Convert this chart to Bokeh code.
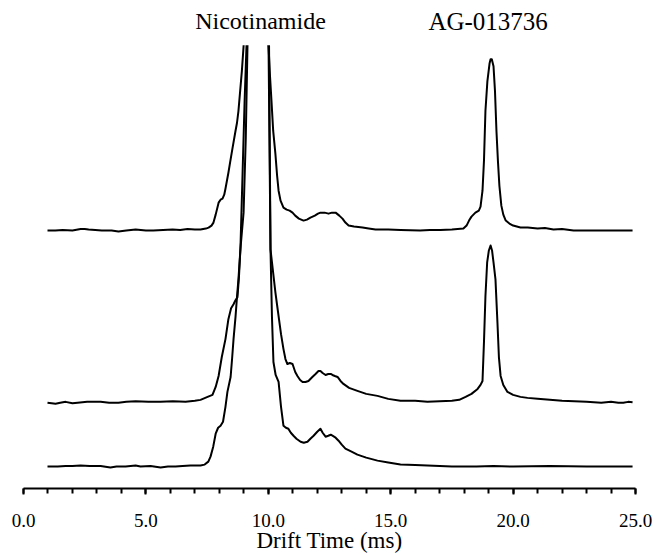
from bokeh.plotting import figure
from bokeh.models import Label, SingleIntervalTicker, PrintfTickFormatter, Range1d, BoxAnnotation
from bokeh.embed import file_html
from bokeh.resources import INLINE

# Drift time (ms) and signal height above each trace's own baseline (arbitrary units).
# The nicotinamide peak is off-scale (saturated) in all three spectra.
top_x = [0.98, 1.3, 1.6, 2.0, 2.33, 2.5, 2.66, 3.2, 3.6, 3.88, 4.2, 4.58, 5.0, 5.3, 5.7,
         6.09, 6.4, 6.7, 7.0, 7.23, 7.45, 7.56, 7.68, 7.76, 7.85, 7.97, 8.05, 8.13, 8.2,
         8.25, 8.37, 8.45, 8.54, 8.66, 8.72, 8.78, 8.85, 8.92, 8.99, 9.07, 9.52, 9.93,
         10.01, 10.07, 10.13, 10.2, 10.29, 10.36, 10.42, 10.5, 10.62, 10.75, 10.87, 10.99,
         11.1, 11.25, 11.44, 11.58, 11.72, 11.9, 12.03, 12.13, 12.3, 12.46, 12.6, 12.75,
         12.9, 13.03, 13.15, 13.28, 13.5, 13.85, 14.1, 14.38, 14.9, 15.4, 16.2, 16.6, 17.03,
         17.5, 17.97, 18.1, 18.2, 18.3, 18.46, 18.6, 18.67, 18.75, 18.81, 18.87, 18.95,
         19.04, 19.08, 19.13, 19.2, 19.26, 19.32, 19.38, 19.44, 19.52, 19.6, 19.7, 19.85,
         20.0, 20.3, 20.6, 21.0, 21.3, 21.65, 22.0, 22.47, 23.0, 23.57, 24.2, 24.88]
top_y = [0, 0, 0.5, 0, 1.5, 1.5, 1, 0, 0, -1, 0, 1, 0, 0, 0.5,
         1, 0.5, 1.5, 1, 1, 2, 3, 5, 8, 16, 28, 31, 32, 36,
         42, 58, 70, 83, 100, 108, 120, 140, 160, 185, 215, 225, 215,
         185, 155, 130, 100, 77, 55, 40, 30, 23, 21, 20, 18,
         15, 12, 10, 11, 13, 15, 17, 18, 18, 17, 18, 18,
         15, 12, 8, 5, 4, 3, 2, 1, 1, 0.5, 0, 0.5, 0.5,
         1, 2, 5, 10, 14, 18, 20, 24, 40, 70, 120, 150,
         168, 172, 172, 165, 140, 100, 70, 45, 25, 16, 10, 7,
         5, 3, 3, 2, 2.5, 1, 1.5, 0, 0, 0, 0, 0]

mid_x = [0.98, 1.15, 1.31, 1.5, 1.72, 2.0, 2.21, 2.6, 3.15, 3.5, 3.88, 4.2, 4.58, 5.1,
         5.6, 6.1, 6.62, 7.0, 7.23, 7.52, 7.72, 7.85, 7.97, 8.1, 8.25, 8.37, 8.48, 8.58,
         8.66, 8.74, 8.8, 8.86, 8.95, 9.03, 9.11, 9.2, 9.55, 9.95, 10.03, 10.09, 10.29,
         10.36, 10.42, 10.52, 10.62, 10.7, 10.78, 10.88, 10.99, 11.1, 11.19, 11.3, 11.4,
         11.52, 11.64, 11.8, 11.93, 12.05, 12.13, 12.22, 12.34, 12.45, 12.55, 12.62, 12.72,
         12.83, 12.95, 13.07, 13.3, 13.64, 14.0, 14.46, 14.9, 15.4, 16.0, 16.5, 17.0, 17.5,
         17.8, 18.06, 18.3, 18.55, 18.67, 18.75, 18.81, 18.87, 18.94, 19.01, 19.08, 19.14,
         19.2, 19.28, 19.36, 19.42, 19.49, 19.6, 19.77, 20.0, 20.3, 20.59, 21.0, 21.5, 22.0,
         22.5, 23.0, 23.3, 23.6, 24.0, 24.3, 24.5, 24.7, 24.88]
mid_y = [-1, -1.5, -2, -1, 0, -1.5, -1, 0, 0, -1, -1, 0, 0.5, 0,
         0, 0.5, 0, 1, 2, 5, 7, 15, 26, 45, 63, 83, 94, 98,
         102, 105, 125, 153, 230, 300, 358, 380, 395, 380, 358, 153, 110,
         97, 86, 68, 53, 43, 38, 39, 38, 30, 26, 22, 20,
         20, 21, 25, 28, 31, 31, 29, 27, 28, 28, 27, 26,
         25, 21, 18, 14, 11, 8, 6, 3, 1, 1, 0, 0.5, 1,
         2, 5, 8, 13, 17, 21, 60, 106, 140, 152, 157, 152,
         140, 123, 80, 45, 26, 17, 10, 7, 5, 4, 3, 2, 1,
         0.5, 0, -0.5, -1, 0, -1, -1, 0, -0.5]

bot_x = [0.98, 1.4, 1.72, 2.0, 2.33, 2.7, 3.15, 3.55, 3.8, 4.17, 4.58, 4.78, 5.19, 5.6,
         5.9, 6.21, 6.5, 6.82, 7.23, 7.4, 7.55, 7.64, 7.75, 7.85, 7.95, 8.05, 8.15, 8.25,
         8.33, 8.46, 8.52, 8.58, 8.66, 8.72, 8.78, 8.86, 8.99, 9.08, 9.15, 9.2, 9.55, 9.95,
         10.01, 10.09, 10.15, 10.21, 10.3, 10.42, 10.52, 10.62, 10.72, 10.82, 10.92, 11.03,
         11.15, 11.32, 11.45, 11.6, 11.72, 11.85, 12.0, 12.13, 12.22, 12.34, 12.45, 12.55,
         12.62, 12.75, 12.87, 13.0, 13.15, 13.4, 13.64, 14.0, 14.46, 14.9, 15.4, 16.0, 16.5,
         17.5, 18.5, 19.2, 20.0, 21.5, 23.0, 24.0, 24.88]
bot_y = [0, 0, 0.5, 0.5, 1, 0.5, 0.5, -1, 0, 0, 1, 0, 0.5, -1,
         0, 0, 0.5, 1, 1, 2, 5, 10, 20, 33, 39, 41, 45, 60,
         75, 90, 108, 128, 150, 170, 188, 218, 255, 330, 423, 450, 460, 450,
         423, 218, 150, 105, 92, 85, 60, 41, 39, 38, 34, 31,
         28, 25, 24, 25, 28, 31, 35, 38, 34, 30, 31, 32,
         31, 29, 26, 22, 18, 15, 12, 9, 6, 4, 2, 1.5, 1,
         0, 0, 0.5, 0, 0.5, 0, 0, 0]

offsets = {"top": 259, "middle": 87, "bottom": 22}

x_ticks_interval = 5
peak_labels = ["Nicotinamide", "AG-013736"]
peak_label_x = [9.68, 18.98]

p = figure(width=656, height=555, output_backend="svg", toolbar_location=None,
           x_range=Range1d(0, 25), y_range=Range1d(0, 490), y_axis_location=None,
           min_border_left=23, min_border_right=21, min_border_top=0, min_border_bottom=65)
p.outline_line_color = None
p.xgrid.visible = False
p.ygrid.visible = False

for xs, ys, key in [(top_x, top_y, "top"), (mid_x, mid_y, "middle"), (bot_x, bot_y, "bottom")]:
    p.line(xs, [v + offsets[key] for v in ys], line_color="black", line_width=2,
           line_join="round")

# the off-scale nicotinamide peaks are cut at the top of the plotted area
p.add_layout(BoxAnnotation(bottom=445, top=2000, left=-5, right=30, fill_color="white",
                           fill_alpha=1.0, line_alpha=0))

ax = p.xaxis[0]
ax.ticker = SingleIntervalTicker(interval=x_ticks_interval, num_minor_ticks=5)
ax.formatter = PrintfTickFormatter(format="%.1f")
ax.axis_line_width = 2
ax.axis_line_color = "black"
ax.major_tick_out = 6
ax.major_tick_in = 0
ax.minor_tick_out = 5
ax.minor_tick_in = 0
ax.major_tick_line_width = 2
ax.minor_tick_line_width = 2
ax.major_label_text_font = "Liberation Serif"
ax.major_label_text_font_size = "19px"
ax.major_label_text_color = "black"
ax.major_label_standoff = 19
ax.axis_label = "Drift Time (ms)"
ax.axis_label_text_font = "Liberation Serif"
ax.axis_label_text_font_size = "23px"
ax.axis_label_text_font_style = "normal"
ax.axis_label_text_color = "black"
ax.axis_label_standoff = -2

sizes = ["24px", "25px"]
for txt, xv, fs in zip(peak_labels, peak_label_x, sizes):
    p.add_layout(Label(x=xv, y=469, text=txt, text_font="Liberation Serif",
                       text_font_size=fs, text_align="center", text_baseline="alphabetic",
                       text_color="black"))

open("out.html", "w").write(file_html(p, INLINE))
